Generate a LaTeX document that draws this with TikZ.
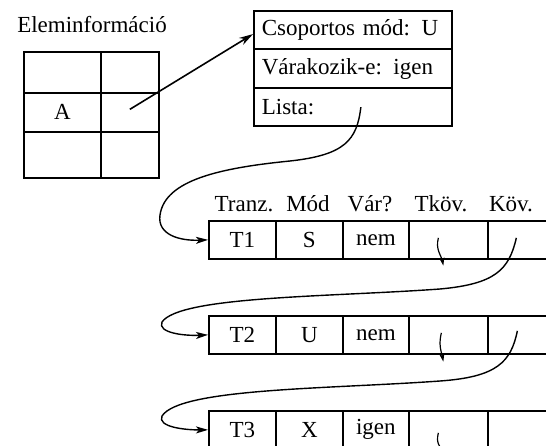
\documentclass[tikz,border=0pt]{standalone}
\usepackage{fontspec}
\setmainfont{Liberation Serif}
\usetikzlibrary{arrows.meta}

\begin{document}
\begin{tikzpicture}[x=1pt,y=-1pt]
			\tikzstyle{cell}=[draw, line width=1.7pt, inner sep=0pt, anchor=north west, font=\fontsize{23}{27}\selectfont]
			\tikzstyle{field}=[cell, inner xsep=8pt, text width=182pt, minimum height=38.5pt, align=left]
			\tikzstyle{rec}=[cell, minimum height=38pt]
			\tikzstyle{head}=[font=\fontsize{23}{27}\selectfont, anchor=base, inner sep=0pt]
			\tikzstyle{link}=[line width=1.4pt, -{Stealth[length=12pt, width=7pt, inset=3pt]}]
			\tikzstyle{nil}=[line width=1.2pt, -{Stealth[length=8pt, width=5pt, inset=2pt]}]

			\useasboundingbox (0,0) rectangle (546,446);

			% element table
			\node [head] (elem) at (92,33) {Eleminformáció};
			\node [cell, minimum width=77pt, minimum height=41pt] (e11) at (23,51) {};
			\node [cell, minimum width=58pt, minimum height=41pt] (e12) at (100,51) {};
			\node [cell, minimum width=77pt, minimum height=39pt] (e21) at (23,92) {A};
			\node [cell, minimum width=58pt, minimum height=39pt] (e22) at (100,92) {};
			\node [cell, minimum width=77pt, minimum height=46pt] (e31) at (23,131) {};
			\node [cell, minimum width=58pt, minimum height=46pt] (e32) at (100,131) {};

			% group record
			\node [field] (csop) at (253,10) {Csoportos mód: U};
			\node [field] (var) at (253,48.5) {Várakozik-e: igen};
			\node [field] (lista) at (253,87) {Lista:};

			% column heads
			\node [head] (hTr) at (244,212) {Tranz.};
			\node [head] (hMod) at (308,212) {Mód};
			\node [head] (hVar) at (370,212) {Vár?};
			\node [head] (hTk) at (441,212) {Tköv.};
			\node [head] (hK) at (511,212) {Köv.};

			% lock list
			\node [rec, minimum width=67pt] (t1) at (208,220) {T1};
			\node [rec, minimum width=67pt] (m1) at (275,220) {S};
			\node [rec, minimum width=66pt] (v1) at (342,220) {nem};
			\node [rec, minimum width=79pt] (tk1) at (408,220) {};
			\node [rec, minimum width=83pt] (k1) at (487,220) {};

			\node [rec, minimum width=67pt] (t2) at (208,315) {T2};
			\node [rec, minimum width=67pt] (m2) at (275,315) {U};
			\node [rec, minimum width=66pt] (v2) at (342,315) {nem};
			\node [rec, minimum width=79pt] (tk2) at (408,315) {};
			\node [rec, minimum width=83pt] (k2) at (487,315) {};

			\node [rec, minimum width=67pt] (t3) at (208,410) {T3};
			\node [rec, minimum width=67pt] (m3) at (275,410) {X};
			\node [rec, minimum width=66pt] (v3) at (342,410) {igen};
			\node [rec, minimum width=79pt] (tk3) at (408,410) {};
			\node [rec, minimum width=83pt] (k3) at (487,410) {};

			\draw [line width=1.6pt, -{Stealth[length=14pt, width=8pt]}] ([yshift=3pt]e22.center) -- ([yshift=-4pt]csop.west);

			\draw [link] ([xshift=8pt]lista.center) .. controls (357,140) and (345,155) .. (290,161)
				.. controls (220,168) and (165,180) .. (160,215) .. controls (157,235) and (180,241) .. (t1.west);
			\draw [link] ([xshift=-13pt,yshift=2pt]k1.center) .. controls (509,270) and (495,284) .. (440,289)
				.. controls (330,297) and (180,296) .. (162,322) .. controls (157,333) and (185,336) .. (t2.west);
			\draw [link] ([xshift=-12pt,yshift=4pt]k2.center) .. controls (511,362) and (497,377) .. (440,381)
				.. controls (330,389) and (180,388) .. (162,416) .. controls (157,427) and (185,430) .. (t3.west);

			\draw [nil] ([xshift=-10pt,yshift=2pt]tk1.center) .. controls +(-3,12) and +(-2,-10) .. ([xshift=-5pt,yshift=-6pt]tk1.south);
			\draw [nil] ([xshift=-7pt,yshift=2pt]tk2.center) .. controls +(-3,12) and +(-2,-10) .. ([xshift=-5pt,yshift=-7pt]tk2.south);
			\draw [nil] ([xshift=-10pt,yshift=-3pt]tk3.center) .. controls +(-3,12) and +(-2,-10) .. ([xshift=-5pt,yshift=-7pt]tk3.south);
		\end{tikzpicture}
\end{document}
